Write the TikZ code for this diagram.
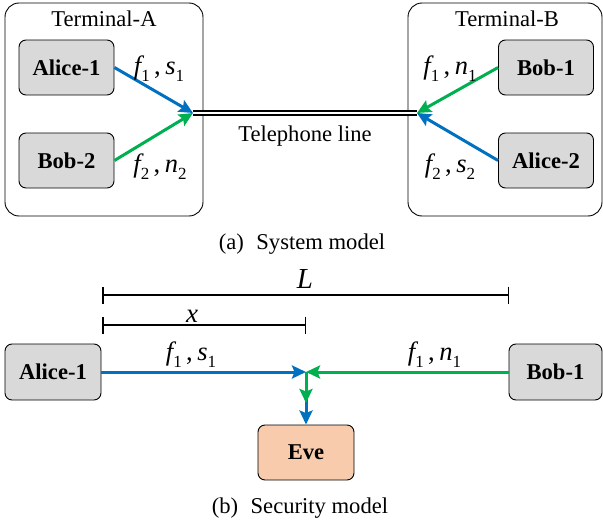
\documentclass[tikz,border=0pt]{standalone}
\usepackage{fontspec}
\setmainfont{Liberation Serif}
\usetikzlibrary{arrows.meta}
\definecolor{ablue}{HTML}{0070C0}
\definecolor{agreen}{HTML}{00B050}
\definecolor{boxgray}{HTML}{D9D9D9}
\definecolor{evefill}{HTML}{F8CBAD}
\newcommand{\sbx}[1]{\raisebox{-0.28em}{\fontsize{17}{17}\selectfont\upshape #1}}
\newcommand{\varlab}[2]{{\itshape f}\sbx{#1}\,,\,{\itshape #2}}
\begin{document}
\begin{tikzpicture}[x=1pt,y=-1pt,
  font=\fontsize{22.6}{26}\selectfont,
  terminal/.style={draw=black,line width=0.9pt,rounded corners=14pt,minimum width=#1,minimum height=213pt,inner sep=0pt},
  party/.style={draw=black,line width=0.9pt,fill=boxgray,rounded corners=7pt,minimum width=95pt,minimum height=55pt,inner sep=0pt,font=\fontsize{22.6}{26}\selectfont\bfseries},
  evebox/.style={party,fill=evefill},
  lab/.style={anchor=base,inner sep=0pt,font=\fontsize{26.5}{28}\selectfont},
  txt/.style={anchor=base,inner sep=0pt},
  sig/.style={line width=3pt,-{Stealth[length=14pt,width=13pt,inset=2.5pt]}},
  tel/.style={double=white,double distance=1.4pt,line width=1.9pt},
  bar/.style={line width=1.5pt,{Bar[width=17pt,line width=1.5pt]}-{Bar[width=17pt,line width=1.5pt]}}
]
\useasboundingbox (0,0) rectangle (603,522);
% ----- (a) system model
\node[terminal=198pt] (ta) at (104,109.5) {};
\node[terminal=194pt] (tb) at (505,109.5) {};
\node[txt] (talab) at (104,26) {Terminal-A};
\node[txt] (tblab) at (507,26) {Terminal-B};
\node[party] (a1) at (66.5,67.5) {Alice-1};
\node[party] (b2) at (66.5,160.5) {Bob-2};
\node[party] (b1) at (546,67.5) {Bob-1};
\node[party] (a2) at (546,160.5) {Alice-2};
\coordinate (tipA) at (193,113);
\coordinate (tipB) at (417,113);
\draw[tel] (tipA) -- (tipB);
\draw[sig,ablue] (a1.east) -- (tipA);
\draw[sig,agreen] (b2.east) -- (tipA);
\draw[sig,agreen] (b1.west) -- (tipB);
\draw[sig,ablue] (a2.west) -- (tipB);
\node[lab] (l1) at (159,74) {\varlab{1}{s}\sbx{1}};
\node[lab] (l2) at (160,172) {\varlab{2}{n}\sbx{2}};
\node[lab] (l3) at (450,74) {\varlab{1}{n}\sbx{1}};
\node[lab] (l4) at (450,172) {\varlab{2}{s}\sbx{2}};
\node[txt] (tel) at (305,141) {Telephone line};
\node[txt] (capa) at (302,249) {(a)\hspace{0.55em}System model};
% ----- (b) security model
\node[party,minimum width=96pt,minimum height=56pt] (ba1) at (53,372) {Alice-1};
\node[party,minimum width=93pt,minimum height=56pt] (bb1) at (555.5,372) {Bob-1};
\node[evebox,minimum width=96pt] (eve) at (306,452.5) {Eve};
\coordinate (J) at (306,372);
\coordinate (Lleft) at (102,295);
\coordinate (Lright) at (509,295);
\coordinate (xleft) at (102,325);
\coordinate (xright) at (306,325);
\draw[bar] (Lleft) -- (Lright);
\draw[bar] (xleft) -- (xright);
\node[lab,font=\fontsize{29}{30}\selectfont\itshape] (Llab) at (305,288) {L};
\node[lab,font=\fontsize{27}{28}\selectfont\itshape] (xlab) at (192,322) {x};
\draw[sig,ablue] (ba1.east) -- (J);
\draw[sig,agreen] (bb1.west) -- (J);
\draw[sig,ablue] (J) -- (eve.north);
\draw[sig,agreen] (J) -- ++(0,31) coordinate (gmid);
\node[lab] (bl1) at (191,360) {\varlab{1}{s}\sbx{1}};
\node[lab] (bl2) at (434.5,360) {\varlab{1}{n}\sbx{1}};
\node[txt] (capb) at (300,513) {(b)\hspace{0.55em}Security model};
\end{tikzpicture}
\end{document}
